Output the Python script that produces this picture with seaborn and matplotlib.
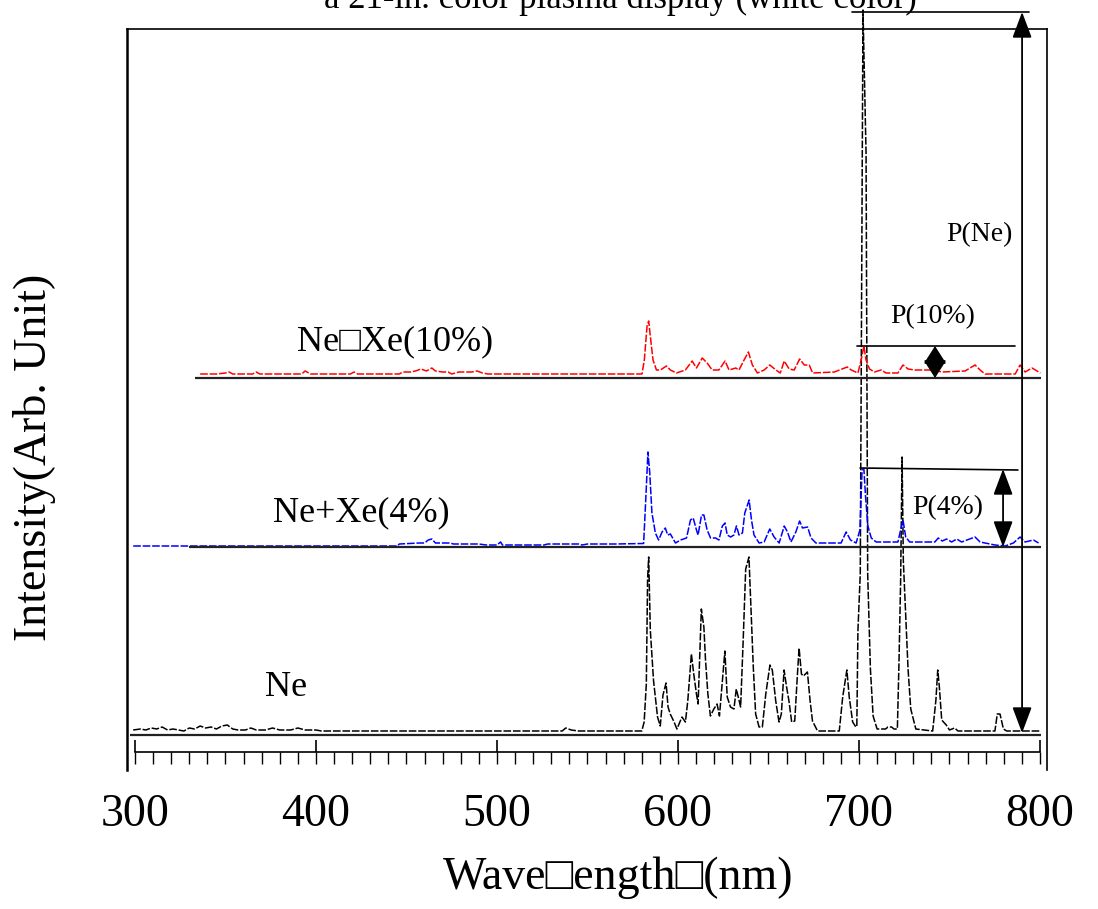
import numpy as np
import pandas as pd
import matplotlib
matplotlib.use("Agg")
import matplotlib.pyplot as plt
import seaborn as sns
from matplotlib.ticker import MultipleLocator

# ---------------- data ----------------
# wavelength (nm) / relative intensity (arb. units, 0 = each trace's own baseline)
ne_wl = [299, 303, 306, 309, 312, 315, 318, 321, 324, 327, 330, 333, 336, 339, 342, 345, 348, 351,
         354, 357, 361, 364, 367, 372, 376, 380, 386, 390, 394, 400, 403, 536, 538, 541, 545,
         580.0, 581.3, 582.5, 583.2, 583.8, 584.7, 586.5, 588.7, 590.2, 591.7, 593.4, 594.5, 595.7,
         597.6, 599.4, 602.2, 604.1, 605.4, 607.4, 608.7, 610.2, 611.1, 612.9, 614.3, 615.2, 616.5,
         617.9, 619.8, 621.6, 622.9, 624.4, 625.9, 627.2, 629.0, 630.9, 632.2, 633.3, 634.6, 636.0,
         637.4, 639.2, 640.5, 641.6, 642.9, 644.8, 646.6, 648.5, 650.8, 652.1, 654.0, 655.8, 657.1,
         658.6, 660.0, 661.3, 662.8, 664.5, 666.0, 666.9, 668.2, 669.3, 671.5, 673.0, 674.3, 677.1,
         689.1, 691.0, 693.3, 694.6, 696.5, 698.3, 698.8, 699.4, 700.7, 702.2, 703.9, 704.8, 706.3,
         707.8, 710.0, 714.7, 716.0, 718.0, 719.3, 721.2, 722.1, 723.0, 723.8, 724.5, 725.8, 727.1,
         728.6, 731.4, 740.7, 742.5, 743.5, 744.4, 745.7, 748.2, 750.0, 752.8, 754.7, 775.1, 776.4,
         777.9, 779.8, 781.6, 800.0]
ne_int = [1, 2, 1, 3, 2, 4, 1, 2, 1, 0, 3, 2, 5, 3, 4, 2, 5, 6,
          2, 1, 1, 3, 1, 1, 3, 1, 1, 3, 1, 1, 0, 0, 3, 1, 0,
          0, 9, 47, 152, 174, 101, 50, 14, 5, 36, 48, 24, 17,
          10, 2, 14, 9, 30, 77, 57, 37, 27, 122, 104, 71, 37,
          15, 22, 27, 15, 47, 80, 34, 24, 22, 42, 34, 24, 90,
          162, 174, 114, 64, 17, 4, 4, 37, 66, 61, 30, 9, 17,
          61, 44, 30, 9, 10, 57, 83, 57, 55, 59, 30, 10, 0,
          0, 34, 61, 34, 9, 4, 5, 100, 157, 721, 578, 157, 62,
          15, 2, 2, 4, 4, 2, 2, 69, 150, 274, 170, 116, 62,
          22, 2, 0, 31, 61, 44, 11, 6, 1, 3, 0, 0, 17,
          17, 2, 0, 0]

xe4_wl = [299, 445, 446, 457, 460, 462, 464, 466, 474, 476, 490, 494, 500, 502, 503, 526, 528, 545,
          547, 550, 565, 581.0, 582.1, 583.4, 584.4, 585.6, 587.5, 589.3, 591.2, 593.0, 594.3,
          595.8, 598.6, 601.4, 604.7, 606.9, 608.4, 610.2, 611.1, 613.0, 614.3, 616.1, 618.0,
          620.8, 622.6, 624.5, 626.0, 627.2, 629.1, 630.9, 632.3, 633.7, 635.6, 636.9, 639.3,
          640.6, 642.0, 644.8, 647.6, 650.7, 653.1, 655.9, 658.7, 660.5, 662.4, 665.1, 667.2,
          668.8, 671.6, 673.5, 676.2, 690.1, 692.9, 695.3, 698.4, 700.5, 701.7, 702.7, 703.6,
          704.9, 706.8, 709.5, 721.5, 723.0, 724.3, 725.8, 728.0, 741.9, 743.8, 746.0, 748.4,
          751.2, 754.0, 756.7, 764.1, 766.9, 775.1, 780.7, 785.3, 789.0, 791.8, 796.4, 799.2]
xe4_int = [-2, -2, 0, 1, 1, 4, 5, 1, 1, 0, 0, -1, -1, 2, -1, -1, 0, 0,
           -1, 0, 0, 0.5, 41, 92, 71, 31, 11, 4, 12, 16, 9,
           10, 1, 4, 6, 24, 26, 14, 9, 29, 29, 14, 6,
           6, 4, 18, 21, 9, 7, 9, 18, 9, 11, 31, 44,
           24, 9, 1, 2, 15, 7, 1, 18, 12, 2, 12, 23,
           16, 17, 6, 1, 1, 12, 4, 1, 14, 74, 75, 48,
           18, 6, 2, 2, 14, 24, 7, 2, 2, 6, 3, 5,
           2, 5, 2, 7, 2, -1, -2, 1, 7, 2, 4, 1]

xe10_wl = [336, 345, 350, 352, 354, 365, 367, 369, 380, 392, 394, 397, 419, 421, 423, 446, 448,
           452, 455, 458, 461, 464, 466, 470, 473, 475, 479, 486, 489, 492, 495,
           580.1, 581.4, 582.9, 583.8, 584.7, 586.2, 588.1, 590.3, 593.6, 595.8, 599.1, 604.1,
           607.8, 610.2, 613.4, 616.1, 618.9, 622.6, 626.0, 628.2, 631.9, 633.7, 636.5, 638.9,
           641.1, 643.9, 647.6, 650.7, 654.1, 656.5, 658.7, 661.4, 664.2, 667.2, 669.8, 672.5,
           674.4, 686.4, 689.2, 693.5, 695.7, 699.4, 701.2, 702.7, 703.9, 705.8, 708.6, 712.2,
           715.0, 721.5, 724.3, 727.1, 730.8, 741.9, 745.6, 758.6, 764.1, 766.9, 769.6, 786.3,
           789.0, 791.8, 795.6, 800.2]
xe10_int = [0, 0, 1, 2, 0, 0, 2, 0, 0, 0, 3, 0, 0, 2, 0, 0, 2,
            2, 3, 5, 3, 6, 3, 2, 2, 0, 2, 2, 3, 1, 0,
            0, 14, 48, 53, 38, 14, 4, 4, 8, 4, 1, 4,
            13, 6, 16, 11, 4, 4, 13, 4, 6, 4, 14, 22,
            9, 1, 4, 9, 4, 1, 13, 5, 4, 15, 9, 9,
            1, 2, 4, 7, 4, 1, 14, 28, 14, 5, 2, 4,
            1, 1, 9, 5, 4, 4, 2, 3, 9, 4, 0, 0,
            9, 2, 6, 1]

series_names = ["Ne", "Ne+Xe(4%)", "Ne\u25a1Xe(10%)"]
series_colors = ["black", "#0000ff", "#ff0000"]
annot_names = ["P(Ne)", "P(10%)", "P(4%)"]
tick_values = [300, 400, 500, 600, 700, 800]
tick_labels = ["300", "400", "500", "600", "700", "800"]
x_title = "Wave\u25a1ength\u25a1(nm)"
y_title = "Intensity(Arb. Unit)"
fig_title = "a 21-in. color plasma display (white color)"

# ---------------- layout / style ----------------
sns.set_style("white")
plt.rcParams["font.family"] = ["Liberation Serif", "DejaVu Serif"]
plt.rcParams["text.color"] = "black"
plt.rcParams["axes.labelcolor"] = "black"
plt.rcParams["xtick.color"] = "black"

W, H = 1098, 909
fig = plt.figure(figsize=(W / 100, H / 100), dpi=100)
ax = fig.add_axes([127 / W, 1 - 770 / H, 920 / W, 741 / H])
ax.set_xlim(295.58, 803.87)
ax.set_ylim(-39, 702)

offsets = [0, 187, 357]          # vertical stacking of the three traces
base_shift = [-4, -3, -4]        # solid reference line under each trace
base_start = [297, 330, 333]
dash = (0, (5, 1.2))

data_sets = [(ne_wl, ne_int), (xe4_wl, xe4_int), (xe10_wl, xe10_int)]
for (wl, inten), off, col, bs, b0 in zip(data_sets, offsets, series_colors, base_shift, base_start):
    df = pd.DataFrame({"wl": wl, "I": np.asarray(inten, float) + off})
    sns.lineplot(data=df, x="wl", y="I", ax=ax, color=col, lw=1.1, linestyle=dash,
                 estimator=None, sort=False, legend=False)
    ax.plot([b0, 800.5], [off + bs, off + bs], color="#222222", lw=1.6, solid_capstyle="butt")

for ln in ax.lines:
    ln.set_clip_on(False)

# series labels
ax.text(371.8, 43, series_names[0], fontsize=26, ha="left", va="center", color="black")
ax.text(376.2, 218, series_names[1], fontsize=26, ha="left", va="center", color="black")
ax.text(389.5, 389, series_names[2], fontsize=26, ha="left", va="center", color="black")

# peak-height annotations
ne_top = 719
p10_top = offsets[2] + 28
p4_top = offsets[1] + 75
ax.plot([696.1, 793.9], [ne_top, ne_top], color="black", lw=1.2, clip_on=False)
ax.plot([698.9, 786.2], [p10_top, p10_top], color="black", lw=1.2, clip_on=False)
ax.plot([700.6, 787.8], [p4_top + 1, p4_top - 1], color="black", lw=1.2, clip_on=False)

def darrow(x, y0, y1, hl, hw):
    a = ax.annotate("", xy=(x, y0), xytext=(x, y1), annotation_clip=False,
                    arrowprops=dict(arrowstyle=f"<|-|>,head_length={hl},head_width={hw}",
                                    color="black", lw=1.3, shrinkA=0, shrinkB=0,
                                    mutation_scale=20))
    a.arrow_patch.set_clip_on(False)

darrow(790.1, -2, ne_top, 0.8, 0.3)
darrow(742.0, offsets[2] - 4, p10_top, 0.55, 0.35)
darrow(779.6, offsets[1] - 3, p4_top, 0.8, 0.3)

ax.text(748.1, 496, annot_names[0], fontsize=20, ha="left", va="center", color="black")
ax.text(717.1, 414, annot_names[1], fontsize=20, ha="left", va="center", color="black")
ax.text(729.3, 223, annot_names[2], fontsize=20, ha="left", va="center", color="black")

# axes frame and ticks
for s in ["left", "right", "top", "bottom"]:
    ax.spines[s].set_color("black")
    ax.spines[s].set_linewidth(1.2)
ax.spines["left"].set_linewidth(1.8)
ax.spines["bottom"].set_position(("data", -21))
ax.spines["bottom"].set_bounds(300, 800)

ax.set_xticks(tick_values)
ax.set_xticklabels(tick_labels)
ax.xaxis.set_minor_locator(MultipleLocator(10))
ax.xaxis.remove_overlapping_locs = False
ax.tick_params(axis="x", which="major", direction="in", length=9, width=1.2, pad=30,
               labelsize=33, bottom=True, top=False, colors="black")
ax.tick_params(axis="x", which="minor", direction="out", length=8.5, width=1.0,
               bottom=True, top=False, colors="black")
ax.set_yticks([])

ax.set_xlabel(x_title, fontsize=33, color="black")
ax.xaxis.set_label_coords((618 - 127) / 920, (770 - 878) / 741)
ax.xaxis.label.set_va("center")
ax.set_ylabel(y_title, fontsize=33, color="black")
ax.yaxis.set_label_coords((35 - 127) / 920, (770 - 457) / 741)
ax.yaxis.label.set_va("center")

fig.text(620 / W, 1 - 8 / H, fig_title, fontsize=25, ha="center", va="baseline", color="black")

fig.savefig("out.png", dpi=100)
